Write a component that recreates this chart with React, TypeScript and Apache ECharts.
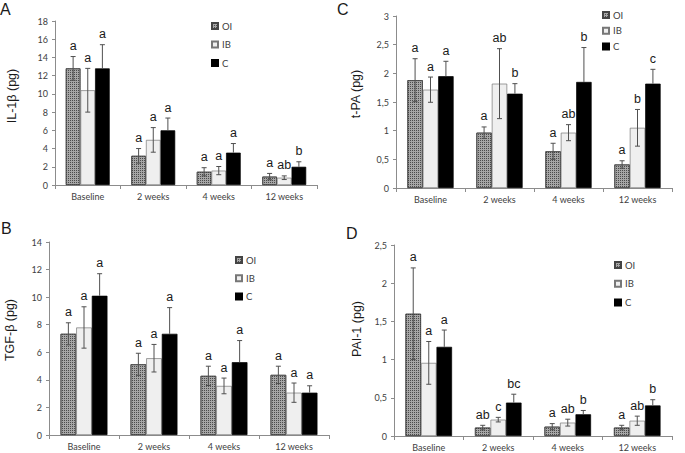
import React, { useEffect, useRef } from 'react';
import * as echarts from 'echarts';

const categories = ['Baseline', '2 weeks', '4 weeks', '12 weeks'];
const groupNames = ['OI', 'IB', 'C'];

// Panel A: IL-1β
const il1bOI = [12.8, 3.2, 1.45, 0.92];
const il1bOIerr = [1.3, 0.8, 0.45, 0.35];
const il1bIB = [10.4, 4.95, 1.58, 0.8];
const il1bIBerr = [2.4, 1.35, 0.45, 0.2];
const il1bC = [12.8, 6.0, 3.55, 2.0];
const il1bCerr = [2.6, 1.35, 1.0, 0.55];
const il1bOIlab = ['a', 'a', 'a', 'a'];
const il1bIBlab = ['a', 'a', 'a', 'ab'];
const il1bClab = ['a', 'a', 'a', 'b'];

// Panel C: t-PA
const tpaOI = [1.88, 0.965, 0.64, 0.41];
const tpaOIerr = [0.375, 0.1, 0.14, 0.065];
const tpaIB = [1.715, 1.82, 0.965, 1.05];
const tpaIBerr = [0.22, 0.61, 0.14, 0.32];
const tpaC = [1.95, 1.645, 1.85, 1.82];
const tpaCerr = [0.26, 0.175, 0.6, 0.25];
const tpaOIlab = ['a', 'a', 'a', 'a'];
const tpaIBlab = ['a', 'ab', 'ab', 'b'];
const tpaClab = ['a', 'b', 'b', 'c'];

// Panel B: TGF-β
const tgfOI = [7.34, 5.13, 4.29, 4.36];
const tgfOIerr = [0.8, 0.8, 0.7, 0.63];
const tgfIB = [7.8, 5.57, 3.56, 3.07];
const tgfIBerr = [1.5, 1.0, 0.57, 0.7];
const tgfC = [10.1, 7.34, 5.28, 3.07];
const tgfCerr = [1.6, 1.9, 1.57, 0.5];
const tgfOIlab = ['a', 'a', 'a', 'a'];
const tgfIBlab = ['a', 'a', 'a', 'a'];
const tgfClab = ['a', 'a', 'a', 'a'];

// Panel D: PAI-1
const paiOI = [1.6, 0.11, 0.122, 0.11];
const paiOIerr = [0.6, 0.03, 0.04, 0.03];
const paiIB = [0.957, 0.214, 0.175, 0.2];
const paiIBerr = [0.28, 0.03, 0.045, 0.06];
const paiC = [1.167, 0.437, 0.284, 0.4];
const paiCerr = [0.22, 0.11, 0.05, 0.075];
const paiOIlab = ['a', 'ab', 'a', 'a'];
const paiIBlab = ['a', 'c', 'ab', 'ab'];
const paiClab = ['a', 'bc', 'b', 'b'];

const GAP = 0.33;

type Panel = {
  letter: string;
  title: string;
  max: number;
  interval: number;
  values: number[][];
  errors: number[][];
  labels: string[][];
  grid: { left: number; top: number; width: number; height: number };
  legend: { left: number; top: number; gap: number };
  titlePos: [number, number];
  letterPos: [number, number];
};

const panels: Panel[] = [
  {
    letter: 'A', title: 'IL-1β (pg)', max: 18, interval: 2,
    values: [il1bOI, il1bIB, il1bC], errors: [il1bOIerr, il1bIBerr, il1bCerr],
    labels: [il1bOIlab, il1bIBlab, il1bClab],
    grid: { left: 55, top: 21, width: 262, height: 164 },
    legend: { left: 211, top: 21, gap: 8.5 },
    titlePos: [12, 96], letterPos: [0, 1],
  },
  {
    letter: 'C', title: 't-PA (pg)', max: 3, interval: 0.5,
    values: [tpaOI, tpaIB, tpaC], errors: [tpaOIerr, tpaIBerr, tpaCerr],
    labels: [tpaOIlab, tpaIBlab, tpaClab],
    grid: { left: 396, top: 16, width: 276, height: 172 },
    legend: { left: 602, top: 10, gap: 5.7 },
    titlePos: [356, 94], letterPos: [337, 1],
  },
  {
    letter: 'B', title: 'TGF-β (pg)', max: 14, interval: 2,
    values: [tgfOI, tgfIB, tgfC], errors: [tgfOIerr, tgfIBerr, tgfCerr],
    labels: [tgfOIlab, tgfIBlab, tgfClab],
    grid: { left: 49, top: 242, width: 280, height: 193 },
    legend: { left: 235, top: 255, gap: 8.3 },
    titlePos: [10, 330], letterPos: [1, 220],
  },
  {
    letter: 'D', title: 'PAI-1 (pg)', max: 2.5, interval: 0.5,
    values: [paiOI, paiIB, paiC], errors: [paiOIerr, paiIBerr, paiCerr],
    labels: [paiOIlab, paiIBlab, paiClab],
    grid: { left: 394, top: 245, width: 278, height: 191 },
    legend: { left: 614, top: 260, gap: 8.8 },
    titlePos: [357, 329], letterPos: [346, 225],
  },
];

const barStyles = [
  {
    color: '#a6a6a6', borderColor: '#444', borderWidth: 0.7,
    decal: { symbol: 'rect', symbolSize: 1, dashArrayX: [1, 1], dashArrayY: [1, 1], color: 'rgba(0,0,0,0.55)' },
  },
  { color: '#efefef', borderColor: '#777', borderWidth: 0.7 },
  { color: '#000000', borderColor: '#000000', borderWidth: 0.7 },
];

const fmt = (v: number) => String(v).replace('.', ',');

function buildOption() {
  const grid: any[] = [];
  const xAxis: any[] = [];
  const yAxis: any[] = [];
  const series: any[] = [];
  const legend: any[] = [];
  const graphic: any[] = [];

  panels.forEach((p, pi) => {
    grid.push({ ...p.grid, containLabel: false });
    xAxis.push({
      type: 'category', gridIndex: pi, data: categories,
      axisLine: { lineStyle: { color: '#8c8c8c', width: 1 } },
      axisTick: { show: true, length: 4, lineStyle: { color: '#8c8c8c' } },
      axisLabel: { fontSize: 9, fontFamily: 'Lato', color: '#404040', margin: 7, interval: 0 },
    });
    yAxis.push({
      type: 'value', gridIndex: pi, min: 0, max: p.max, interval: p.interval,
      splitLine: { show: false },
      axisLine: { show: true, lineStyle: { color: '#8c8c8c', width: 1 } },
      axisTick: { show: true, length: 3, lineStyle: { color: '#8c8c8c' } },
      axisLabel: { fontSize: 9, fontFamily: 'Lato', color: '#404040', margin: 7, formatter: fmt },
    });
    groupNames.forEach((g, si) => {
      series.push({
        type: 'bar', name: g, xAxisIndex: pi, yAxisIndex: pi,
        data: p.values[si], barGap: '0%', barCategoryGap: GAP * 100 + '%',
        itemStyle: barStyles[si],
      });
    });
    const errData: number[][] = [];
    for (let si = 0; si < 3; si++) {
      for (let c = 0; c < categories.length; c++) {
        errData.push([c, si, p.values[si][c], p.errors[si][c]]);
      }
    }
    series.push({
      type: 'custom', name: 'err' + pi, xAxisIndex: pi, yAxisIndex: pi, z: 5,
      encode: { x: 0, y: 2 },
      itemStyle: { color: '#1a1a1a' },
      data: errData,
      renderItem: (params: any, api: any) => {
        const c = api.value(0);
        const si = api.value(1);
        const v = api.value(2);
        const e = api.value(3);
        const base = api.coord([c, 0]);
        const band = api.size([1, 0])[0];
        const barW = (band * (1 - GAP)) / 3;
        const cx = base[0] + (si - 1) * barW;
        const top = api.coord([c, v + e])[1];
        const bot = api.coord([c, v - e])[1];
        const mid = api.coord([c, v])[1];
        const cap = 2.5;
        const st = { stroke: '#505050', lineWidth: 1 };
        const children: any[] = [
          { type: 'line', shape: { x1: cx, y1: top, x2: cx, y2: si === 2 ? mid : bot }, style: st },
          { type: 'line', shape: { x1: cx - cap, y1: top, x2: cx + cap, y2: top }, style: st },
        ];
        if (si !== 2) {
          children.push({ type: 'line', shape: { x1: cx - cap, y1: bot, x2: cx + cap, y2: bot }, style: st });
        }
        children.push({
          type: 'text', x: cx, y: top - 4,
          style: {
            text: p.labels[si][c], fontSize: 12.5, fontFamily: 'Liberation Sans, Arial',
            fill: '#1a1a1a', align: 'center', verticalAlign: 'bottom',
          },
        });
        return { type: 'group', children };
      },
    });
    legend.push({
      data: groupNames, orient: 'vertical', left: p.legend.left, top: p.legend.top,
      itemWidth: 6, itemHeight: 6, itemGap: p.legend.gap, padding: 0, selectedMode: false,
      icon: 'rect',
      textStyle: { fontSize: 9.5, fontFamily: 'Lato', color: '#404040', lineHeight: 10, padding: [0, 0, 0, -1] },
    });
    graphic.push({
      type: 'text', x: p.letterPos[0], y: p.letterPos[1],
      style: { text: p.letter, fontSize: 16, fontFamily: 'Liberation Sans, Arial', fill: '#1a1a1a' },
    });
    graphic.push({
      type: 'text', x: p.titlePos[0], y: p.titlePos[1], rotation: Math.PI / 2,
      style: {
        text: p.title, fontSize: 12.5, fontFamily: 'Liberation Sans, Arial', fill: '#1a1a1a',
        align: 'center', verticalAlign: 'middle',
      },
    });
  });

  return { animation: false, backgroundColor: '#ffffff', grid, xAxis, yAxis, series, legend, graphic };
}

export default function App() {
  const ref = useRef<HTMLDivElement>(null);
  useEffect(() => {
    document.body.style.margin = '0';
    if (!ref.current) return;
    const chart = echarts.init(ref.current, null, { renderer: 'svg' });
    chart.setOption(buildOption() as any);
    return () => chart.dispose();
  }, []);
  return <div ref={ref} style={{ width: 685, height: 453 }} />;
}
